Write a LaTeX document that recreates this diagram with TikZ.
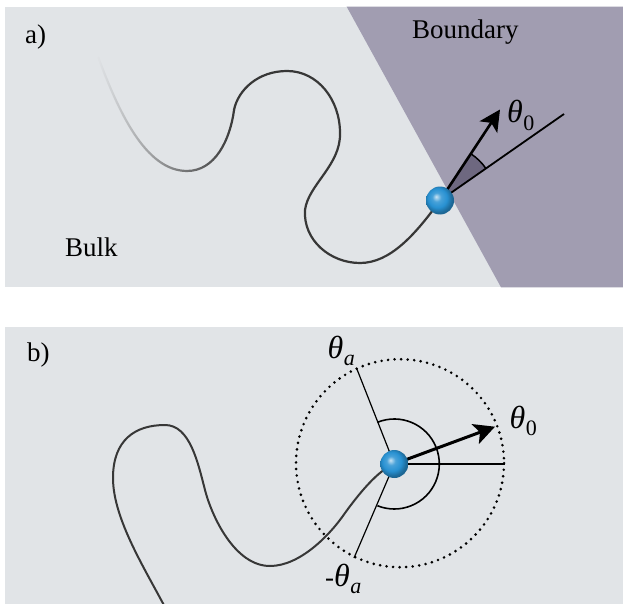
\documentclass[tikz,border=0pt]{standalone}
\usepackage{fontspec}
\setmainfont{Liberation Serif}
\usetikzlibrary{arrows.meta,fadings}
\definecolor{bulkbg}{RGB}{225,228,231}
\definecolor{bndcol}{RGB}{161,157,177}
\definecolor{wedgecol}{RGB}{110,104,128}
\definecolor{curvecol}{RGB}{55,55,55}
\definecolor{ballcol}{RGB}{40,145,210}
\pgfdeclareradialshading{beadshade}{\pgfqpoint{-7bp}{7bp}}{%
  color(0bp)=(ballcol!25!white); color(8bp)=(ballcol!85!white);
  color(17bp)=(ballcol); color(25bp)=(ballcol!72!black); color(50bp)=(ballcol!50!black)}
\tikzfading[name=curvefade, left color=transparent!100, right color=transparent!0]
\newcommand\thsub[1]{{\fontsize{32}{34}\selectfont\textit{θ}}\kern0.5pt\raisebox{-0.27em}{\fontsize{22}{22}\selectfont #1}}
\begin{document}
\begin{tikzpicture}[x=1pt,y=-1pt,
  lbl/.style={inner sep=0pt, font=\fontsize{27}{30}\selectfont, anchor=base west},
  panellbl/.style={inner sep=0pt, font=\fontsize{27}{30}\selectfont, anchor=base west},
  chain/.style={draw=curvecol, line width=2.2pt},
  bead/.style={circle, minimum size=28pt, inner sep=0pt, shading=beadshade},
  bigarrow/.style={-{Stealth[length=21pt,width=21pt,inset=5pt]}},
  thin/.style={line width=1.2pt},
  dotcircle/.style={line width=2.9pt, line cap=round, dash pattern=on 0pt off 6.55pt}
]
\useasboundingbox (0,0) rectangle (623,604);
\fill[white] (0,0) rectangle (623,604);

% ---------------- panel a ----------------
\fill[bulkbg] (5,6.7) rectangle (623,287.3);
\fill[bndcol] (346.7,6.7) -- (623,6.7) -- (623,287.3) -- (501,287.3) -- cycle;

\coordinate (cA) at (440,200.5);
\coordinate (lineA) at (564,114);
\coordinate (tipA) at (500,109.5);

\draw[chain, path fading=curvefade] (98,57) .. controls (118,110) and (145,171) .. (187,171)
   .. controls (215,171) and (230,140) .. (234,110);
\draw[chain, line cap=round] (234,110) .. controls (238,90) and (258,71) .. (287,71)
   .. controls (318,71) and (340,100) .. (340,133)
   .. controls (341,165) and (308,185) .. (305,210)
   .. controls (303,240) and (330,263) .. (360,263)
   .. controls (390,263) and (415,235) .. (cA);

\fill[wedgecol] (cA) -- ++(-34.7:56) arc[start angle=-34.7, end angle=-56.4, radius=56] -- cycle;
\draw[line width=1.5pt] (cA) ++(-34.7:56) arc[start angle=-34.7, end angle=-56.4, radius=56];
\draw[line width=1.8pt] (cA) -- (lineA);
\draw[line width=2.6pt, bigarrow] (cA) -- (tipA);
\node[bead] (ballA) at (cA) {};

\node[panellbl] (la) at (25,43.5) {a)};
\node[lbl] (lbnd) at (412,38.3) {Boundary};
\node[lbl] (lbulk) at (65,256) {Bulk};
\node[lbl] (lth0a) at (507,123) {\thsub{0}};

% ---------------- panel b ----------------
\fill[bulkbg] (5,327.3) rectangle (623,604);

\coordinate (cB) at (394.3,464);
\coordinate (circC) at (400,463.2);
\coordinate (endTa) at (356.5,368);
\coordinate (endMTa) at (354,558);
\coordinate (endH) at (504.5,464);
\coordinate (tipB) at (495,426.7);

\draw[dotcircle] (circC) circle[radius=104];

\draw[chain, line width=2pt] (167.5,612) .. controls (147,572) and (113,520) .. (113,478)
   .. controls (113,440) and (135,425) .. (165,425)
   .. controls (190,425) and (198,463) .. (205,490)
   .. controls (212,517) and (235,566) .. (270,566)
   .. controls (300,566) and (330,535) .. (345,513)
   .. controls (358,495) and (378,470) .. (cB);

\draw[thin] (cB) -- (endTa);
\draw[thin] (cB) -- (endMTa);
\draw[line width=1.6pt] (cB) -- (endH);
\draw[line width=1.6pt] (cB) ++(-112:45) arc[start angle=-112, end angle=112, radius=45];
\draw[line width=3pt, bigarrow] (cB) -- (tipB);
\node[bead] (ballB) at (cB) {};

\node[panellbl] (lb) at (27,361.7) {b)};
\node[lbl] (lth0b) at (509.5,428) {\thsub{0}};
\node[lbl] (ltha) at (327.5,358) {\thsub{\textit{a}}};
\node[lbl] (lmtha) at (325,586.7) {-\thsub{\textit{a}}};
\end{tikzpicture}
\end{document}
